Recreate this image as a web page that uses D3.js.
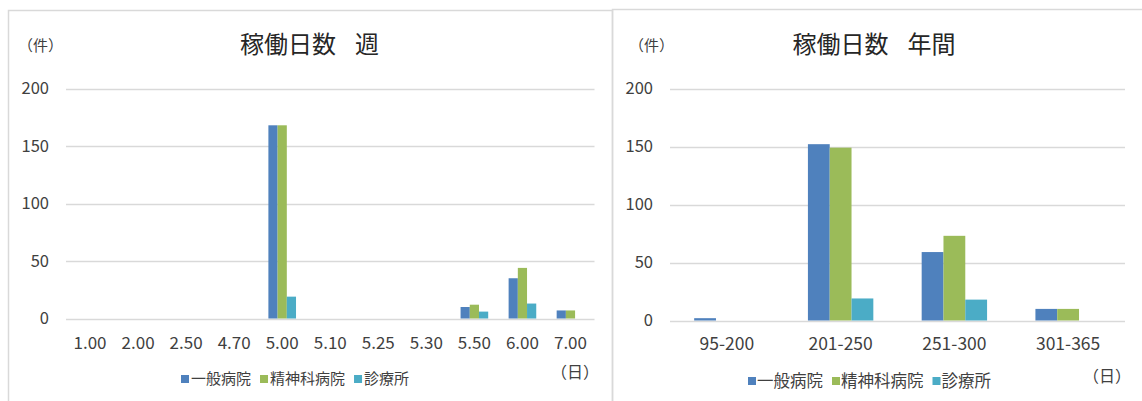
<!DOCTYPE html>
<html>
<head>
<meta charset="utf-8">
<script src="https://cdn.jsdelivr.net/npm/d3@7"></script>
<style>
  body { margin: 0; background: #fff; }
  svg text { font-family: "Noto Sans CJK JP", "Noto Sans", sans-serif; }
</style>
</head>
<body>
<script>

// series names and colors
const seriesNames = ["一般病院", "精神科病院", "診療所"];
const seriesColors = ["#4f81bd", "#9bbb59", "#4bacc6"];

// weekly operating days
const weekCategories = ["1.00", "2.00", "2.50", "4.70", "5.00", "5.10", "5.25", "5.30", "5.50", "6.00", "7.00"];
const weekGeneral = [0, 0, 0, 0, 168, 0, 0, 0, 10, 35, 7];
const weekPsych = [0, 0, 0, 0, 168, 0, 0, 0, 12, 44, 7];
const weekClinic = [0, 0, 0, 0, 19, 0, 0, 0, 6, 13, 0];

// yearly operating days
const yearCategories = ["95-200", "201-250", "251-300", "301-365"];
const yearGeneral = [2, 152, 59, 10];
const yearPsych = [0, 149, 73, 10];
const yearClinic = [0, 19, 18, 0];

const yTicks = [0, 50, 100, 150, 200];

const svg = d3.select("body").append("svg")
    .attr("width", 1142)
    .attr("height", 401);

function drawChart(opt) {
    const g = svg.append("g");

    // chart frame
    g.append("rect")
        .attr("x", opt.frame[0] + 0.5)
        .attr("y", opt.frame[1] + 0.5)
        .attr("width", opt.frame[2])
        .attr("height", opt.frame[3])
        .attr("fill", "none")
        .attr("stroke", "#d9d9d9")
        .attr("stroke-width", 1.5);

    const x0 = d3.scaleBand()
        .domain(opt.categories)
        .range([opt.left, opt.right])
        .paddingInner(0.425)
        .paddingOuter(0.2125);

    const x1 = d3.scaleBand()
        .domain(d3.range(seriesNames.length))
        .range([0, x0.bandwidth()]);

    const y = d3.scaleLinear()
        .domain([0, 200])
        .range([opt.bottom, opt.top]);

    // gridlines
    g.append("g")
        .selectAll("line")
        .data(yTicks)
        .enter().append("line")
        .attr("x1", opt.left)
        .attr("x2", opt.right)
        .attr("y1", d => Math.round(y(d)) + 0.5)
        .attr("y2", d => Math.round(y(d)) + 0.5)
        .attr("stroke", "#d9d9d9")
        .attr("stroke-width", 1.3);

    // y tick labels
    g.append("g")
        .selectAll("text")
        .data(yTicks)
        .enter().append("text")
        .attr("x", opt.yLabelX)
        .attr("y", d => y(d))
        .attr("dy", "0.35em")
        .attr("text-anchor", "end")
        .attr("font-size", 16.5)
        .attr("fill", "#404040")
        .text(d => d);

    // bars
    const groups = g.append("g")
        .selectAll("g")
        .data(opt.categories)
        .enter().append("g")
        .attr("transform", d => `translate(${x0(d)},0)`);

    groups.selectAll("rect")
        .data((d, i) => opt.series.map((s, k) => ({k: k, v: s[i]})))
        .enter().append("rect")
        .filter(d => d.v > 0)
        .attr("x", d => x1(d.k))
        .attr("y", d => y(d.v))
        .attr("width", x1.bandwidth())
        .attr("height", d => y(0) - y(d.v))
        .attr("fill", d => seriesColors[d.k]);

    // x tick labels
    g.append("g")
        .selectAll("text")
        .data(opt.categories)
        .enter().append("text")
        .attr("x", d => x0(d) + x0.bandwidth() / 2)
        .attr("y", opt.xLabelY)
        .attr("dy", "0.35em")
        .attr("text-anchor", "middle")
        .attr("font-size", opt.xFont)
        .attr("fill", "#404040")
        .text(d => d);

    // title (two parts with a gap between)
    const title = g.append("text")
        .attr("x", opt.titleX)
        .attr("y", 45)
        .attr("dy", "0.35em")
        .attr("text-anchor", "middle")
        .attr("font-size", 24)
        .attr("fill", "#262626");
    title.append("tspan").text(opt.title[0]);
    title.append("tspan").attr("dx", 19).text(opt.title[1]);

    // unit labels
    g.append("text")
        .attr("x", opt.unitX)
        .attr("y", 46)
        .attr("dy", "0.35em")
        .attr("font-size", 15)
        .attr("fill", "#404040")
        .text("（件）");

    g.append("text")
        .attr("x", opt.dayX)
        .attr("y", opt.dayY)
        .attr("dy", "0.35em")
        .attr("font-size", 16)
        .attr("fill", "#404040")
        .text("（日）");

    // legend
    const legend = g.append("g")
        .attr("transform", `translate(${opt.legendX},${opt.legendY})`);

    let lx = 0;
    seriesNames.forEach((name, k) => {
        legend.append("rect")
            .attr("x", lx)
            .attr("y", -4)
            .attr("width", 8)
            .attr("height", 8)
            .attr("fill", seriesColors[k]);
        const t = legend.append("text")
            .attr("x", lx + opt.legendGap)
            .attr("y", 0)
            .attr("dy", "0.35em")
            .attr("font-size", opt.legendFont)
            .attr("fill", "#404040")
            .text(name);
        lx += opt.legendGap + t.node().getComputedTextLength() + 9;
    });
}

drawChart({
    frame: [8, 10, 604, 400],
    categories: weekCategories,
    series: [weekGeneral, weekPsych, weekClinic],
    left: 66, right: 594.5, top: 88.5, bottom: 318.5,
    yLabelX: 49, xLabelY: 343, xFont: 17,
    title: ["稼働日数", "週"], titleX: 309.5,
    unitX: 18, dayX: 551, dayY: 372,
    legendX: 181, legendY: 379, legendGap: 10, legendFont: 15
});

drawChart({
    frame: [612, 9, 540, 400],
    categories: yearCategories,
    series: [yearGeneral, yearPsych, yearClinic],
    left: 670, right: 1125, top: 88.5, bottom: 320.5,
    yLabelX: 653, xLabelY: 344, xFont: 17.5,
    title: ["稼働日数", "年間"], titleX: 874,
    unitX: 629, dayX: 1083, dayY: 376,
    legendX: 748, legendY: 381, legendGap: 9, legendFont: 16.5
});

</script>
</body>
</html>
